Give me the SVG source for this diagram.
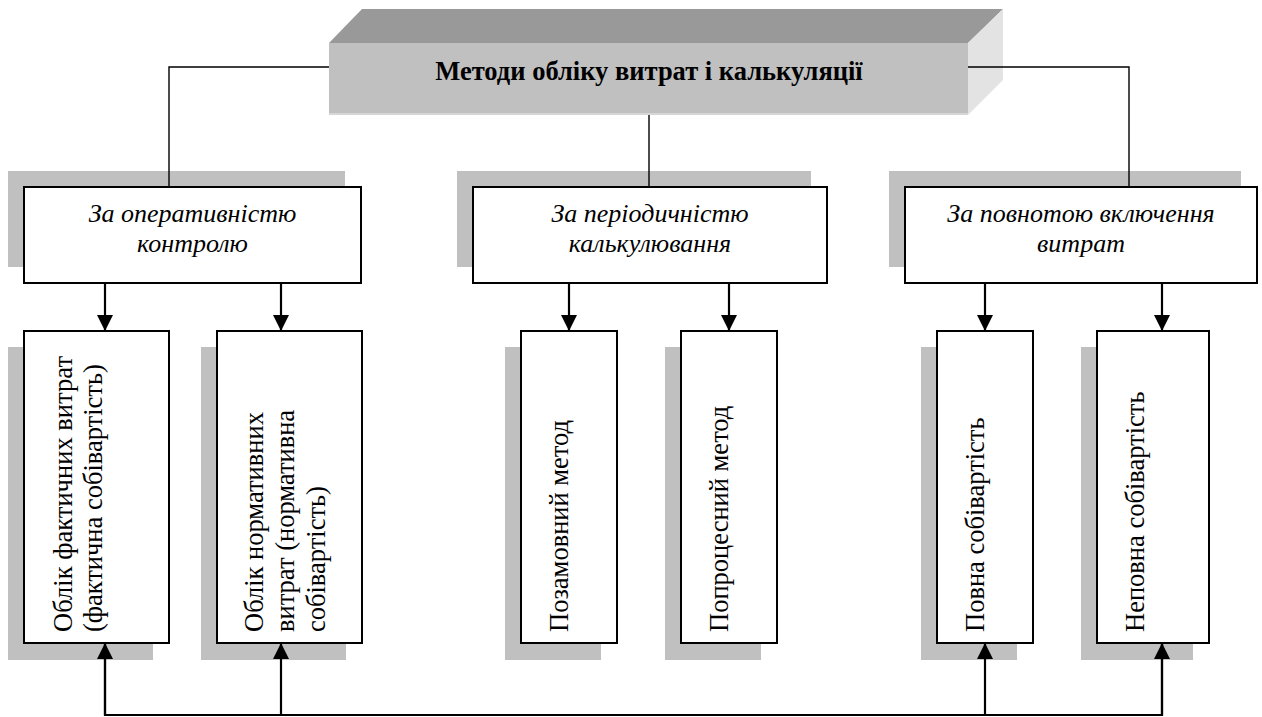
<svg xmlns="http://www.w3.org/2000/svg" width="1262" height="717" viewBox="0 0 1262 717">
<style>
.box{fill:#fff;stroke:#000;stroke-width:2}
.sh{fill:#c0c0c0}
.thin{fill:none;stroke:#000;stroke-width:1.4}
.arr{fill:none;stroke:#000;stroke-width:2.2}
.cat{font-family:"Liberation Serif","Times New Roman",serif;font-style:italic;font-size:26px;text-anchor:middle;fill:#000}
.vt{font-family:"Liberation Serif","Times New Roman",serif;font-size:26.5px;fill:#000}
.title{font-family:"Liberation Serif","Times New Roman",serif;font-weight:bold;font-size:26.5px;text-anchor:middle;fill:#000}
</style>
<defs>
<marker id="ah" viewBox="0 0 16 16" refX="16" refY="8" markerWidth="16" markerHeight="16" markerUnits="userSpaceOnUse" orient="auto">
<path d="M0,0 L16,8 L0,16 z" fill="#000"/>
</marker>
</defs>
<rect width="1262" height="717" fill="#fff"/>

<g id="title">
<polygon points="329,43 362,9 1003,9 968,43" fill="#999999"/>
<polygon points="968,43 1003,9 1003,80 968,115" fill="#e3e3e3"/>
<rect x="329" y="43" width="639" height="72" fill="#c0c0c0"/>
<line x1="329" y1="114" x2="968" y2="114" stroke="#d6d6d6" stroke-width="2"/>
<text class="title" x="649" y="80">Методи обліку витрат і калькуляції</text>
</g>

<g id="cat1">
<rect class="sh" x="8" y="171" width="337" height="96"/>
<rect class="box" x="24" y="187" width="337" height="96"/>
<text class="cat" x="192.5" y="222">За оперативністю</text>
<text class="cat" x="192.5" y="252">контролю</text>
</g>
<g id="cat2">
<rect class="sh" x="457" y="171" width="354" height="96"/>
<rect class="box" x="473" y="187" width="354" height="96"/>
<text class="cat" x="650" y="222">За періодичністю</text>
<text class="cat" x="650" y="252">калькулювання</text>
</g>
<g id="cat3">
<rect class="sh" x="889" y="171" width="352" height="96"/>
<rect class="box" x="905" y="187" width="352" height="96"/>
<text class="cat" x="1081" y="222">За повнотою включення</text>
<text class="cat" x="1081" y="252">витрат</text>
</g>

<g id="m1">
<rect class="sh" x="8" y="347" width="145" height="313"/>
<rect class="box" x="24" y="331" width="145" height="312"/>
<text class="vt" transform="translate(72,632) rotate(-90)"><tspan x="0" y="0" textLength="276" lengthAdjust="spacing">Облік фактичних витрат</tspan><tspan x="0" y="30">(фактична собівартість)</tspan></text>
</g>
<g id="m2">
<rect class="sh" x="201" y="347" width="145" height="313"/>
<rect class="box" x="217" y="331" width="145" height="312"/>
<text class="vt" transform="translate(263,632) rotate(-90)"><tspan x="0" y="0">Облік нормативних</tspan><tspan x="0" y="31">витрат (нормативна</tspan><tspan x="0" y="62">собівартість)</tspan></text>
</g>
<g id="m3">
<rect class="sh" x="505" y="347" width="96" height="313"/>
<rect class="box" x="521" y="331" width="96" height="312"/>
<text class="vt" transform="translate(568,632) rotate(-90)">Позамовний метод</text>
</g>
<g id="m4">
<rect class="sh" x="665" y="347" width="96" height="313"/>
<rect class="box" x="681" y="331" width="96" height="312"/>
<text class="vt" transform="translate(728,632) rotate(-90)">Попроцесний метод</text>
</g>
<g id="m5">
<rect class="sh" x="921" y="347" width="96" height="313"/>
<rect class="box" x="937" y="331" width="96" height="312"/>
<text class="vt" transform="translate(984,632) rotate(-90)">Повна собівартість</text>
</g>
<g id="m6">
<rect class="sh" x="1081" y="347" width="112" height="313"/>
<rect class="box" x="1097" y="331" width="112" height="312"/>
<text class="vt" transform="translate(1144,632) rotate(-90)">Неповна собівартість</text>
</g>

<g id="connectors">
<polyline class="thin" points="329,67 169,67 169,187"/>
<polyline class="thin" points="968,67 1129,67 1129,187"/>
<line class="thin" x1="649" y1="115" x2="649" y2="187"/>
<line class="arr" x1="105" y1="283" x2="105" y2="331" marker-end="url(#ah)"/>
<line class="arr" x1="281" y1="283" x2="281" y2="331" marker-end="url(#ah)"/>
<line class="arr" x1="569" y1="283" x2="569" y2="331" marker-end="url(#ah)"/>
<line class="arr" x1="729" y1="283" x2="729" y2="331" marker-end="url(#ah)"/>
<line class="arr" x1="985" y1="283" x2="985" y2="331" marker-end="url(#ah)"/>
<line class="arr" x1="1162" y1="283" x2="1162" y2="331" marker-end="url(#ah)"/>
<polyline class="arr" points="105,643 105,715 1162,715 1162,643"/>
<line class="arr" x1="105" y1="715" x2="105" y2="643" marker-end="url(#ah)"/>
<line class="arr" x1="281" y1="715" x2="281" y2="643" marker-end="url(#ah)"/>
<line class="arr" x1="985" y1="715" x2="985" y2="643" marker-end="url(#ah)"/>
<line class="arr" x1="1162" y1="715" x2="1162" y2="643" marker-end="url(#ah)"/>
</g>
</svg>
